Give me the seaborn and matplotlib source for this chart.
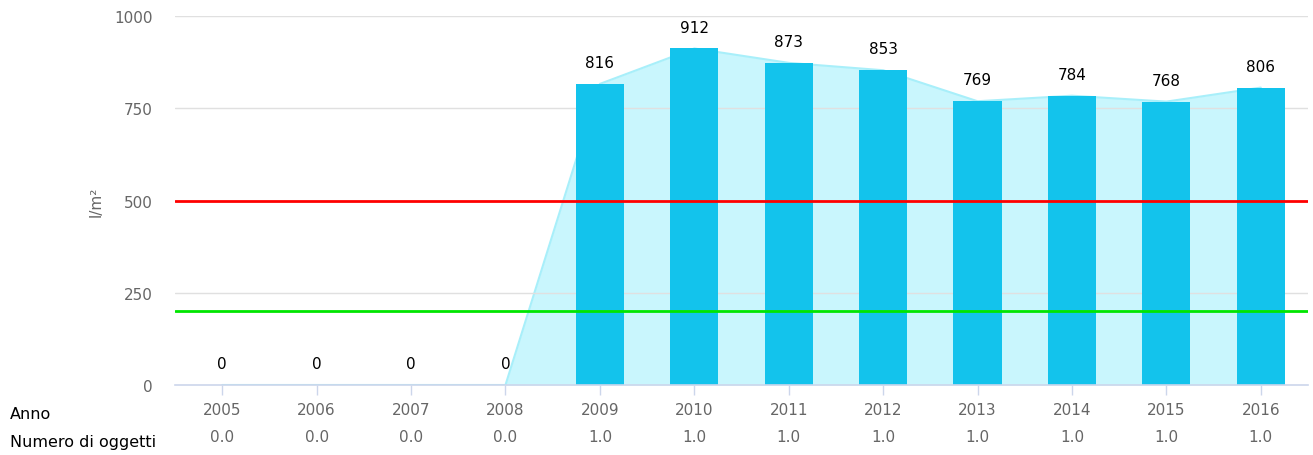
import matplotlib
matplotlib.use('Agg')
import matplotlib.pyplot as plt
import matplotlib.transforms as mtransforms
import seaborn as sns
import pandas as pd

# data
years = ['2005', '2006', '2007', '2008', '2009', '2010', '2011', '2012', '2013', '2014', '2015', '2016']
values = [0, 0, 0, 0, 816, 912, 873, 853, 769, 784, 768, 806]
n_objects = ['0.0', '0.0', '0.0', '0.0', '1.0', '1.0', '1.0', '1.0', '1.0', '1.0', '1.0', '1.0']
red_limit = 500
green_limit = 200
y_ticks = [0, 250, 500, 750, 1000]

df = pd.DataFrame({'Anno': years, 'valore': values})

sns.set_theme(style='white')
plt.rcParams['font.family'] = ['DejaVu Sans']

fig = plt.figure(figsize=(13.13, 4.56), dpi=100)
ax = fig.add_axes([0.1333, 0.1535, 0.8629, 0.8092])

# grid lines
for t in y_ticks[1:]:
    ax.axhline(t, color='#e0e0e0', lw=1, zorder=1)

# area behind bars
xs = list(range(len(years)))
ax.fill_between(xs, values, color='#c9f6fd', zorder=0.5, lw=0)
ax.plot(xs, values, color='#a8effa', lw=1.5, zorder=0.6)

sns.barplot(data=df, x='Anno', y='valore', color='#13c3ec', saturation=1,
            width=0.51, ax=ax, zorder=2, linewidth=0, edgecolor='none')

ax.axhline(red_limit, color='#ff0000', lw=2, zorder=3)
ax.axhline(green_limit, color='#00e600', lw=2, zorder=3)

for i, v in enumerate(values):
    ax.annotate(str(v), (i, v), xytext=(0, 10), textcoords='offset points',
                ha='center', va='bottom', fontsize=11, color='black')

ax.set_xlim(-0.5, len(years) - 0.5)
ax.set_ylim(0, 1000)
ax.set_yticks(y_ticks)
ax.tick_params(axis='y', length=0, pad=16, labelsize=11, labelcolor='#666666')
ax.tick_params(axis='x', length=7, width=1, color='#ccd6eb', pad=5,
               labelsize=11, labelcolor='#666666', bottom=True)
ax.set_xlabel('')
ax.set_ylabel('l/m²', fontsize=11, color='#666666', labelpad=8)

for s in ['top', 'right', 'left']:
    ax.spines[s].set_visible(False)
ax.spines['bottom'].set_color('#ccd6eb')
ax.spines['bottom'].set_linewidth(1.2)

# second row of x labels
trans = mtransforms.blended_transform_factory(ax.transData, fig.transFigure)
for i, lab in enumerate(n_objects):
    ax.text(i, 1 - 438 / 456, lab, transform=trans, ha='center', va='center',
            fontsize=11, color='#666666')

fig.text(10 / 1313, 1 - 415 / 456, 'Anno', ha='left', va='center', fontsize=11.5, color='black')
fig.text(10 / 1313, 1 - 443 / 456, 'Numero di oggetti', ha='left', va='center', fontsize=11.5, color='black')

fig.savefig('out.png', dpi=100)
